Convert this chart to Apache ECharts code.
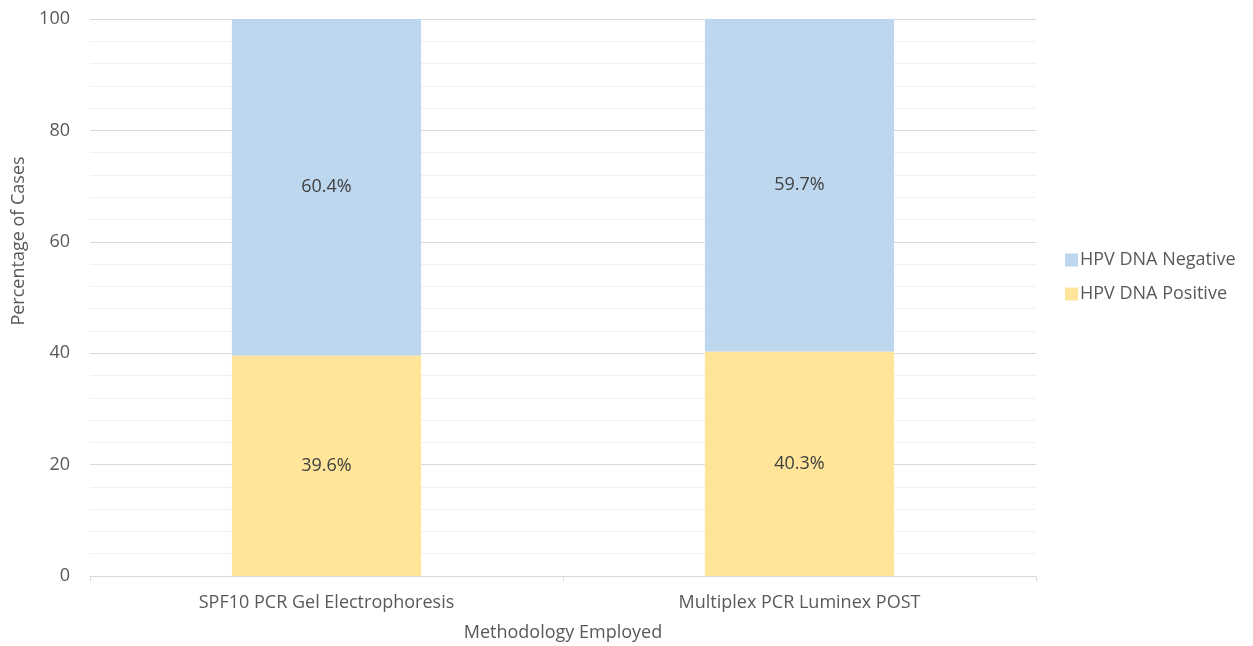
<!DOCTYPE html>
<html>
<head>
<meta charset="utf-8">
<script src="https://cdn.jsdelivr.net/npm/echarts@6/dist/echarts.min.js"></script>
<style>
  html, body { margin: 0; padding: 0; background: #fff; }
  #chart { width: 1253px; height: 646px; }
</style>
</head>
<body>
<div id="chart"></div>
<script>
// Share of HPV DNA results by detection method
const methods = ['SPF10 PCR Gel Electrophoresis', 'Multiplex PCR Luminex POST'];
const positive = [39.6, 40.3];
const negative = [60.4, 59.7];
const yTicks = [0, 20, 40, 60, 80, 100];

const FONT = '"Open Sans", Lato, sans-serif';
const FS = 18;
const chart = echarts.init(document.getElementById('chart'));

const segLabel = {
  show: true,
  position: 'inside',
  color: '#404040',
  fontFamily: FONT,
  fontSize: FS,
  formatter: p => p.value.toFixed(1) + '%'
};

chart.setOption({
  animation: false,
  textStyle: { fontFamily: FONT },
  grid: { left: 90, right: 217, top: 19, bottom: 70, containLabel: false, outerBoundsMode: 'none' },
  legend: {
    orient: 'vertical',
    left: 1060,
    top: 246,
    itemWidth: 13,
    itemHeight: 13,
    itemGap: 16,
    icon: 'rect',
    data: ['HPV DNA Negative', 'HPV DNA Positive'],
    textStyle: { color: '#595959', fontSize: FS, fontFamily: FONT, padding: [0, 0, 0, -3] }
  },
  xAxis: {
    type: 'category',
    data: methods,
    name: 'Methodology Employed',
    nameLocation: 'middle',
    nameGap: 48,
    nameTextStyle: { color: '#595959', fontSize: FS, fontFamily: FONT },
    axisLine: { lineStyle: { color: '#d9d9d9' } },
    axisTick: { show: true, length: 5, lineStyle: { color: '#d9d9d9' } },
    axisLabel: { color: '#595959', fontSize: FS, margin: 18, fontFamily: FONT }
  },
  yAxis: {
    type: 'value',
    min: yTicks[0],
    max: yTicks[yTicks.length - 1],
    interval: 20,
    axisLine: { show: false },
    axisTick: { show: false },
    axisLabel: { color: '#595959', fontSize: FS, margin: 20, fontFamily: FONT },
    splitLine: { lineStyle: { color: '#d9d9d9' } },
    minorTick: { show: false, splitNumber: 5 },
    minorSplitLine: { show: true, lineStyle: { color: '#f0f0f0' } }
  },
  graphic: [{
    type: 'text',
    x: 19,
    y: 241,
    rotation: Math.PI / 2,
    style: {
      text: 'Percentage of Cases',
      fill: '#595959',
      font: FS + 'px ' + FONT,
      textAlign: 'center',
      textVerticalAlign: 'middle'
    }
  }],
  series: [
    {
      name: 'HPV DNA Positive',
      type: 'bar',
      stack: 'all',
      barWidth: '40%',
      data: positive,
      itemStyle: { color: '#FEE599' },
      label: segLabel
    },
    {
      name: 'HPV DNA Negative',
      type: 'bar',
      stack: 'all',
      barWidth: '40%',
      data: negative,
      itemStyle: { color: '#BDD7EE' },
      label: segLabel
    }
  ]
});
</script>
</body>
</html>
